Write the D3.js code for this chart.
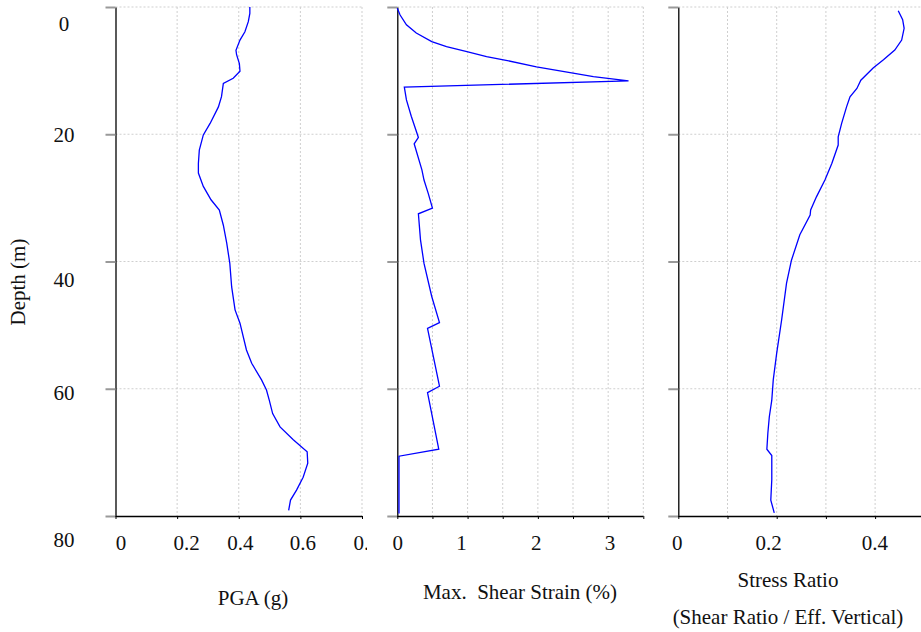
<!DOCTYPE html>
<html>
<head>
<meta charset="utf-8">
<script src="https://cdn.jsdelivr.net/npm/d3@7"></script>
<style>
  html, body { margin: 0; padding: 0; background: #fff; }
  svg { display: block; }
  text { font-family: "Liberation Serif", "Times New Roman", serif; fill: #111; }
</style>
</head>
<body>
<script>
// ---------------- DATA ----------------
const depthTicks = [0, 20, 40, 60, 80];

const pgaDepth = [0, 1.0, 2.3, 3.9, 5.2, 6.8, 7.5, 8.9, 10.1, 11.2, 12.0, 14.1, 15.7, 18.3, 20.1, 22.5, 24.6, 26.1, 28.2, 30.3, 31.9, 34.3, 37.1, 40.3, 44.0, 47.6, 49.7, 53.9, 56.0, 58.6, 60.2, 61.8, 63.9, 66.0, 68.0, 69.9, 71.7, 73.9, 75.9, 77.5, 79.1];
const pgaValues = [0.436, 0.436, 0.431, 0.42, 0.404, 0.391, 0.393, 0.402, 0.404, 0.382, 0.35, 0.344, 0.334, 0.307, 0.285, 0.272, 0.269, 0.269, 0.285, 0.31, 0.337, 0.35, 0.361, 0.371, 0.377, 0.388, 0.404, 0.425, 0.442, 0.474, 0.49, 0.499, 0.51, 0.534, 0.577, 0.622, 0.624, 0.609, 0.588, 0.568, 0.562];
const pgaTicks = [0, 0.2, 0.4, 0.6, 0.8];
const pgaTickLabels = ["0", "0.2", "0.4", "0.6", "0.8"];

const strainDepth = [0.2, 1.26, 2.8, 4.1, 5.45, 6.24, 7.0, 7.8, 8.3, 9.4, 10.4, 10.95, 11.6, 12.6, 14.6, 17.2, 20.5, 21.5, 25.6, 27.2, 29.3, 31.6, 32.5, 36.6, 40.3, 45.5, 49.6, 50.5, 59.6, 60.6, 69.5, 70.6, 79.6];
const strainValues = [0, 0.04, 0.13, 0.27, 0.49, 0.70, 0.99, 1.27, 1.51, 1.98, 2.50, 2.79, 3.29, 0.10, 0.13, 0.20, 0.30, 0.24, 0.35, 0.38, 0.44, 0.50, 0.30, 0.33, 0.38, 0.49, 0.60, 0.43, 0.60, 0.43, 0.59, 0.024, 0.024];
const strainTicks = [0, 0.5, 1, 1.5, 2, 2.5, 3, 3.5];
const strainTickLabels = ["0", "", "1", "", "2", "", "3", ""];

const srDepth = [0.58, 2.0, 3.35, 5.2, 6.76, 8.3, 9.6, 11.5, 12.8, 14.1, 15.7, 18.3, 20.4, 21.7, 24.6, 27.2, 29.8, 31.9, 32.7, 35.8, 39.8, 43.4, 49.2, 54.4, 58.6, 61.8, 64.4, 67.0, 69.5, 70.5, 74.3, 77.5, 79.5];
const srValues = [0.447, 0.456, 0.459, 0.454, 0.440, 0.417, 0.396, 0.371, 0.363, 0.349, 0.342, 0.332, 0.325, 0.325, 0.312, 0.298, 0.281, 0.269, 0.268, 0.247, 0.230, 0.220, 0.210, 0.200, 0.193, 0.190, 0.185, 0.182, 0.180, 0.190, 0.190, 0.188, 0.195];
const srTicks = [0, 0.1, 0.2, 0.3, 0.4, 0.5];
const srTickLabels = ["0", "", "0.2", "", "0.4", ""];

const depthTitle = "Depth (m)";
const pgaTitle = ["PGA (g)"];
const strainTitle = ["Max.  Shear Strain (%)"];
const srTitle = ["Stress Ratio", "(Shear Ratio / Eff. Vertical)"];

// ---------------- STYLE / LAYOUT ----------------
const W = 921, H = 632;
const FONT = 21;
const yTop = 7, yBottom = 516;
// odd label placement nudges seen in the original rendering
const depthLabelDy = [23, 7, 25, 11, 30];
const pgaLabelDx = [5, 9, 1, 2, 4];
const strainLabelDx = [0, 0, -6.5, 0, -2, 0, 1.4, 0];
const srLabelDx = [-1.6, 0, -8.7, 0, -0.7, 0];

const svg = d3.select("body").append("svg").attr("width", W).attr("height", H);

const y = d3.scaleLinear().domain([0, 80]).range([yTop, yBottom]);

const panels = [
  { x0: 115.5, x1: 362, domain: [0, 0.8], ticks: pgaTicks, labels: pgaTickLabels, dx: pgaLabelDx,
    depth: pgaDepth, vals: pgaValues, title: pgaTitle, titleX: 253, titleY: [605], yLabels: true, gridRight: 362 },
  { x0: 397.3, x1: 643.3, domain: [0, 3.5], ticks: strainTicks, labels: strainTickLabels, dx: strainLabelDx,
    depth: strainDepth, vals: strainValues, title: strainTitle, titleX: 520, titleY: [599], yLabels: false, gridRight: 643.3, cover: 367 },
  { x0: 678.3, x1: 924.3, domain: [0, 0.5], ticks: srTicks, labels: srTickLabels, dx: srLabelDx,
    depth: srDepth, vals: srValues, title: srTitle, titleX: 788, titleY: [587, 624], yLabels: false, gridRight: 921 }
];

panels.forEach(p => {
  const x = d3.scaleLinear().domain(p.domain).range([p.x0, p.x1]);
  const g = svg.append("g");

  if (p.cover) {
    g.append("rect").attr("x", p.cover).attr("y", 520).attr("width", 640 - p.cover).attr("height", 40).attr("fill", "#fff");
  }

  // vertical grid lines
  g.append("g").selectAll("line").data(p.ticks.filter(t => t > 0 && x(t) <= W)).join("line")
    .attr("x1", d => x(d)).attr("x2", d => x(d)).attr("y1", yTop).attr("y2", yBottom)
    .attr("stroke", "#cfcfcf").attr("stroke-width", 1).attr("stroke-dasharray", "2,2");
  // horizontal grid lines
  g.append("g").selectAll("line").data(depthTicks.filter(t => t < 80)).join("line")
    .attr("x1", p.x0).attr("x2", p.gridRight).attr("y1", d => y(d)).attr("y2", d => y(d))
    .attr("stroke", "#cfcfcf").attr("stroke-width", 1).attr("stroke-dasharray", "2,2");

  // y axis (grey ticks on the left)
  const ya = g.append("g").attr("transform", `translate(${p.x0},0)`)
    .call(d3.axisLeft(y).tickValues(depthTicks).tickSize(10).tickSizeOuter(0).tickPadding(0)
      .tickFormat(p.yLabels ? d3.format("d") : () => ""));
  ya.select(".domain").attr("stroke", "#000").attr("stroke-width", 1.3);
  ya.selectAll(".tick line").attr("stroke", "#999").attr("stroke-width", 2);
  ya.selectAll(".tick text")
    .attr("x", 64 - p.x0).attr("dy", (d, i) => depthLabelDy[i])
    .attr("text-anchor", "middle").attr("font-size", FONT)
    .style("font-family", '"Liberation Serif", serif').attr("fill", "#111");

  // x axis at the bottom
  const xa = g.append("g").attr("transform", `translate(0,${yBottom})`)
    .call(d3.axisBottom(x).tickValues(p.ticks).tickSize(3).tickSizeOuter(0)
      .tickFormat((d, i) => p.labels[i]));
  xa.select(".domain").attr("stroke", "#000").attr("stroke-width", 1.3)
    .attr("d", `M${p.x0},0.5H${Math.min(p.x1, W)}`);
  xa.selectAll(".tick line").attr("stroke", "#000");
  xa.selectAll(".tick text")
    .attr("y", 34).attr("dy", 0).attr("dx", (d, i) => p.dx[i])
    .attr("font-size", FONT).style("font-family", '"Liberation Serif", serif').attr("fill", "#111");

  // data line
  const pts = p.depth.map((d, i) => [p.vals[i], d]);
  g.append("path").datum(pts)
    .attr("fill", "none").attr("stroke", "#0000ff").attr("stroke-width", 1.3)
    .attr("d", d3.line().x(d => x(d[0])).y(d => y(d[1])).curve(d3.curveLinear));

  // axis title
  p.title.forEach((t, i) => {
    svg.append("text").attr("x", p.titleX).attr("y", p.titleY[i])
      .attr("text-anchor", "middle").attr("font-size", FONT)
      .style("white-space", "pre").text(t);
  });
});

// depth title
svg.append("text")
  .attr("transform", "translate(25,282) rotate(-90)")
  .attr("text-anchor", "middle").attr("font-size", FONT)
  .text(depthTitle);
</script>
</body>
</html>
